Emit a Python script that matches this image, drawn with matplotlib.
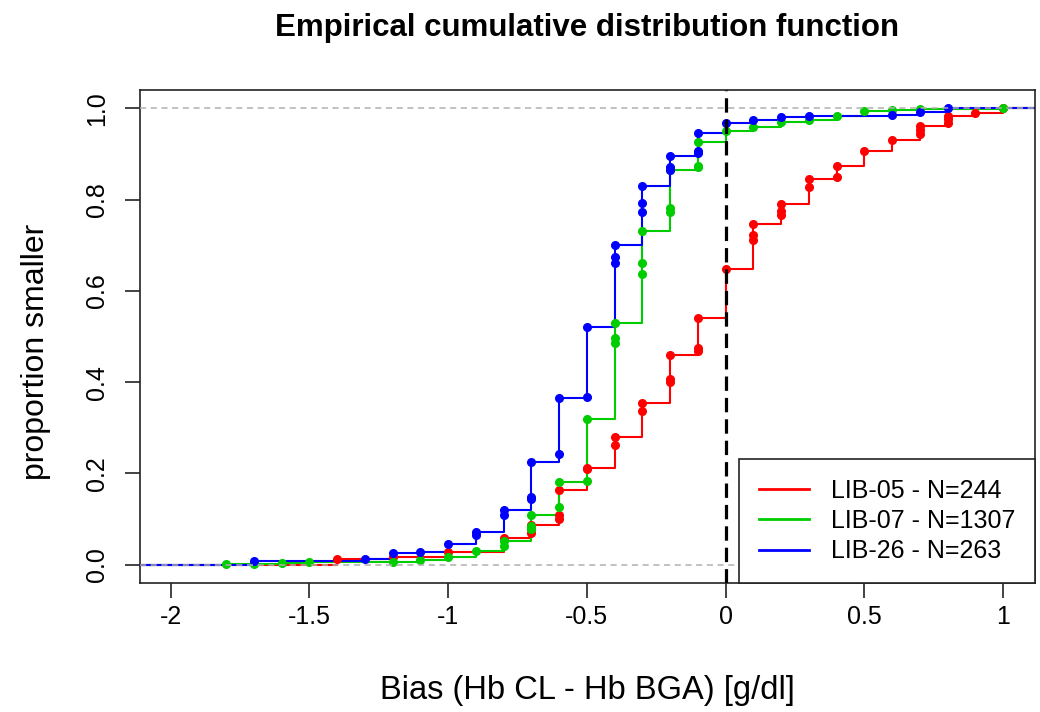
import matplotlib
matplotlib.use("Agg")
import matplotlib.pyplot as plt
from matplotlib.lines import Line2D

plt.rcParams['font.family'] = ['Liberation Sans', 'DejaVu Sans']

# ---------------- data ----------------
title = "Empirical cumulative distribution function"
xlabel = "Bias (Hb CL - Hb BGA) [g/dl]"
ylabel = "proportion smaller"
labels = ["LIB-05 - N=244", "LIB-07 - N=1307", "LIB-26 - N=263"]
colors = ["#FF0000", "#00CD00", "#0000FF"]

red_x = [-1.4, -1.2, -1.0, -0.8, -0.7, -0.7, -0.7, -0.6, -0.6, -0.6, -0.5, -0.5,
         -0.4, -0.4, -0.3, -0.3, -0.2, -0.2, -0.2, -0.1, -0.1, -0.1, 0.0,
         0.1, 0.1, 0.1, 0.2, 0.2, 0.2, 0.3, 0.3, 0.4, 0.4, 0.5, 0.6,
         0.7, 0.7, 0.7, 0.8, 0.8, 0.8, 0.9, 1.0]
red_y = [0.012, 0.016, 0.029, 0.058, 0.069, 0.078, 0.086, 0.101, 0.109, 0.164, 0.209, 0.213,
         0.262, 0.279, 0.336, 0.354, 0.401, 0.406, 0.460, 0.468, 0.475, 0.541, 0.647,
         0.712, 0.723, 0.747, 0.767, 0.774, 0.791, 0.828, 0.845, 0.849, 0.874, 0.907, 0.930,
         0.944, 0.953, 0.962, 0.968, 0.977, 0.982, 0.989, 1.0]

green_x = [-1.8, -1.7, -1.6, -1.5, -1.2, -1.1, -1.0, -0.9, -0.8, -0.8, -0.7, -0.7, -0.7,
           -0.6, -0.6, -0.5, -0.5, -0.4, -0.4, -0.4, -0.3, -0.3, -0.3, -0.2, -0.2, -0.2,
           -0.1, -0.1, -0.1, 0.0, 0.1, 0.2, 0.3, 0.4, 0.5, 0.6, 0.7, 1.0]
green_y = [0.001, 0.002, 0.003, 0.005, 0.007, 0.011, 0.018, 0.031, 0.040, 0.052, 0.078, 0.085, 0.110,
           0.127, 0.182, 0.184, 0.319, 0.486, 0.497, 0.530, 0.638, 0.660, 0.731, 0.772, 0.782, 0.865,
           0.871, 0.874, 0.926, 0.951, 0.960, 0.970, 0.975, 0.984, 0.994, 0.997, 0.999, 1.0]

blue_x = [-1.7, -1.3, -1.2, -1.1, -1.0, -0.9, -0.9, -0.8, -0.8, -0.7, -0.7, -0.7,
          -0.6, -0.6, -0.5, -0.5, -0.4, -0.4, -0.4, -0.3, -0.3, -0.3, -0.2, -0.2, -0.2,
          -0.1, -0.1, -0.1, 0.0, 0.1, 0.2, 0.3, 0.6, 0.7, 0.8]
blue_y = [0.008, 0.012, 0.025, 0.027, 0.046, 0.065, 0.072, 0.109, 0.121, 0.144, 0.149, 0.225,
          0.242, 0.365, 0.367, 0.520, 0.662, 0.675, 0.701, 0.773, 0.792, 0.830, 0.865, 0.871, 0.895,
          0.902, 0.906, 0.945, 0.968, 0.974, 0.980, 0.983, 0.986, 0.991, 1.0]

xticks = [-2, -1.5, -1, -0.5, 0, 0.5, 1]
xticklabels = ["-2", "-1.5", "-1", "-0.5", "0", "0.5", "1"]
yticks = [0.0, 0.2, 0.4, 0.6, 0.8, 1.0]
yticklabels = ["0.0", "0.2", "0.4", "0.6", "0.8", "1.0"]
xlim = (-2.11, 1.115)
ylim = (-0.04, 1.04)

# ---------------- figure ----------------
W, H = 1040, 712
fig = plt.figure(figsize=(W / 100, H / 100), dpi=100)
ax = fig.add_axes([140 / W, 1 - 583 / H, (1035 - 140) / W, (583 - 90) / H])
ax.set_xlim(*xlim)
ax.set_ylim(*ylim)

series = [(red_x, red_y), (green_x, green_y), (blue_x, blue_y)]
handles = []
for (xs, ys), col, lab in zip(series, colors, labels):
    xe = [xlim[0] - 1] + list(xs) + [xlim[1] + 1]
    ye = [0.0] + list(ys) + [ys[-1]]
    ax.step(xe, ye, where='post', color=col, lw=1.5, zorder=2)
    ax.plot(xs, ys, 'o', color=col, ms=5.5, mec=col, zorder=3)
    handles.append(Line2D([0], [0], color=col, lw=2.0, label=lab))

# reference lines
ax.axhline(0, color='#B0B0B0', lw=1.1, ls=(0, (4, 3)), zorder=4)
ax.axhline(1, color='#B0B0B0', lw=1.1, ls=(0, (4, 3)), zorder=4)
ax.axvline(0, color='black', lw=2.3, ls=(0, (4.5, 2.2)), zorder=5)

ax.set_xticks(xticks)
ax.set_xticklabels(xticklabels, fontsize=18)
ax.set_yticks(yticks)
ax.set_yticklabels(yticklabels, fontsize=18, rotation=90, va='center')
ax.tick_params(axis='both', direction='out', length=11, width=1.2, color='#222222')
ax.tick_params(axis='x', pad=5)
ax.tick_params(axis='y', pad=11)
for sp in ax.spines.values():
    sp.set_linewidth(1.2)
    sp.set_color('#222222')

leg = ax.legend(handles=handles, loc='lower right', bbox_to_anchor=(1, 0),
                borderaxespad=0, fontsize=18, frameon=True, fancybox=False,
                framealpha=1, edgecolor='#222222', handlelength=2.0,
                handletextpad=0.9, labelspacing=0.26, borderpad=0.78)
leg.get_frame().set_linewidth(1.2)
leg.set_zorder(10)

fig.text(587.5 / W, 1 - 28 / H, title, ha='center', va='center',
         fontsize=22.5, fontweight='bold')
fig.text(587.5 / W, 1 - 691 / H, xlabel, ha='center', va='center', fontsize=23.5)
fig.text(36 / W, 1 - 352 / H, ylabel, ha='center', va='center', fontsize=23,
         rotation=90)

fig.savefig("out.png", dpi=100)
